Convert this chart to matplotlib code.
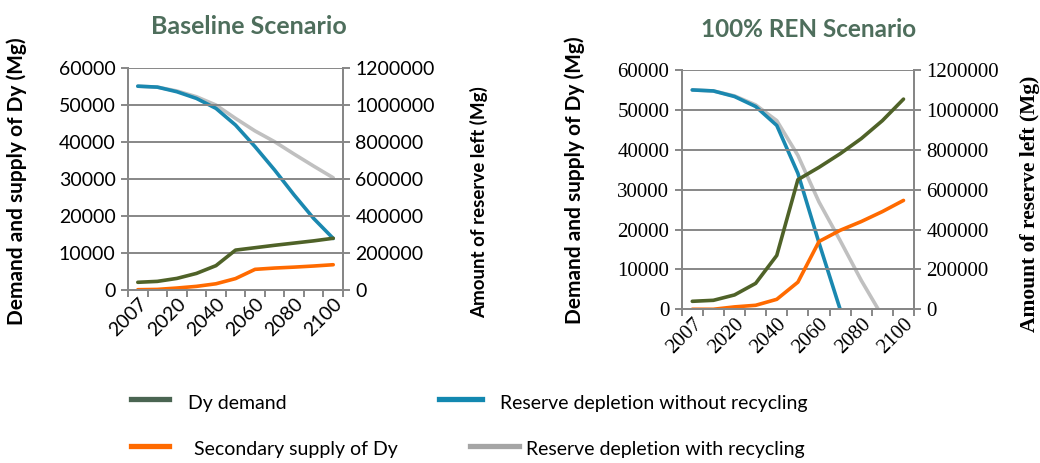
import matplotlib

matplotlib.use("Agg")
import matplotlib.pyplot as plt
from matplotlib.lines import Line2D
from matplotlib.ticker import FuncFormatter

# categories (x) and tick labels
YEARS = ["2007", "2010", "2020", "2030", "2040", "2050", "2060", "2070", "2080", "2090", "2100"]
TICK_YEARS = ["2007", "2020", "2040", "2060", "2080", "2100"]

# Baseline scenario
BASE_DEMAND = [2000, 2250, 3050, 4400, 6500, 10700, 11350, 12000, 12600, 13200, 13900]
BASE_SECONDARY = [0, 80, 450, 900, 1600, 3000, 5500, 5850, 6100, 6400, 6750]
BASE_NO_RECYCLE = [1100000, 1095000, 1070000, 1034000, 980000, 890000, 773000, 647000, 512000, 385000, 277000]
BASE_RECYCLE = [1100000, 1095000, 1074000, 1043000, 998000, 926000, 858000, 800000, 733000, 668000, 605000]

# 100% REN scenario (None = no value)
REN_DEMAND = [2000, 2250, 3600, 6500, 13500, 32500, 35600, 39000, 42800, 47300, 52700]
REN_SECONDARY = [0, 0, 600, 1000, 2500, 6800, 17000, 19800, 22000, 24500, 27300]
REN_NO_RECYCLE = [1100000, 1095000, 1067000, 1017000, 922000, 682000, 333000, 0, None, None, None]
REN_RECYCLE = [1100000, 1095000, 1070000, 1025000, 946000, 772000, 538000, 345000, 145000, -35000, None]

C_DEMAND = "#4F6228"
C_SECONDARY = "#FF6A00"
C_NO_RECYCLE = "#1A88B0"
C_RECYCLE = "#C0C0C0"
C_GRID = "#878787"
C_TITLE = "#4E6E5C"

SANS = ["Lato", "DejaVu Sans"]
SERIF = ["Liberation Serif", "DejaVu Serif"]

plt.rcParams["font.family"] = SANS


def clean(values):
    return [float("nan") if v is None else v for v in values]


def draw_panel(ax, title, demand, secondary, no_rec, rec, tick_size, title_x, title_size):
    x = list(range(len(YEARS)))
    ax2 = ax.twinx()
    ax.set_zorder(ax2.get_zorder() + 1)
    ax.patch.set_visible(False)

    ax2.plot(x, clean(rec), color=C_RECYCLE, lw=2.6, solid_capstyle="round")
    ax2.plot(x, clean(no_rec), color=C_NO_RECYCLE, lw=2.6, solid_capstyle="round")
    ax.plot(x, demand, color=C_DEMAND, lw=2.6, solid_capstyle="round")
    ax.plot(x, secondary, color=C_SECONDARY, lw=2.6, solid_capstyle="round")

    ax.set_xlim(-0.5, len(YEARS) - 0.5)
    ax.set_ylim(0, 60000)
    ax2.set_ylim(0, 1200000)
    ax.set_yticks(range(0, 60001, 10000))
    ax2.set_yticks(range(0, 1200001, 200000))
    plain = FuncFormatter(lambda v, p: f"{v:.0f}")
    ax.yaxis.set_major_formatter(plain)
    ax2.yaxis.set_major_formatter(plain)
    ax.grid(axis="y", color=C_GRID, lw=1.4)
    ax.set_axisbelow(True)

    # category boundaries as tick marks, labels every other category
    ax.set_xticks([i - 0.5 for i in range(len(YEARS) + 1)])
    ax.set_xticklabels([])
    ax.set_xticks([YEARS.index(y) for y in TICK_YEARS], minor=True)
    ax.set_xticklabels(TICK_YEARS, minor=True, rotation=45, ha="right", va="top",
                       rotation_mode="anchor", fontsize=tick_size)
    ax.tick_params(axis="x", which="minor", length=0, pad=4)
    ax.tick_params(axis="x", which="major", length=5, width=1.4, color=C_GRID)
    ax.tick_params(axis="y", length=5, width=1.4, color=C_GRID, pad=4, labelsize=tick_size)
    ax2.tick_params(axis="y", length=5, width=1.4, color=C_GRID, pad=4, labelsize=tick_size)

    for a in (ax, ax2):
        a.spines["top"].set_visible(False)
        for side in ("left", "right", "bottom"):
            a.spines[side].set_color(C_GRID)
            a.spines[side].set_linewidth(1.4)

    ax.set_title(title, fontweight="bold", fontsize=title_size, color=C_TITLE,
                 x=title_x, pad=24)
    return ax2


def set_tick_font(ax, ax2, family):
    labels = ax.get_xticklabels(minor=True) + ax.get_yticklabels() + ax2.get_yticklabels()
    for lab in labels:
        lab.set_fontfamily(family)


fig = plt.figure(figsize=(10.4, 4.63), dpi=100)

ax_base = fig.add_axes([0.1231, 0.3743, 0.2067, 0.4795])
ax_base2 = draw_panel(ax_base, "Baseline Scenario", BASE_DEMAND, BASE_SECONDARY,
                      BASE_NO_RECYCLE, BASE_RECYCLE, 14, 0.56, 18)
ax_base.set_ylabel("Demand and supply of Dy (Mg)", fontweight="bold", fontsize=15)
ax_base.yaxis.set_label_coords(-0.47, 0.487)
ax_base2.set_ylabel("Amount of reserve left (Mg)", fontweight="bold", fontsize=13.5)
ax_base2.yaxis.set_label_coords(1.59, 0.395)

ax_ren = fig.add_axes([0.6555, 0.332, 0.2234, 0.5168])
ax_ren2 = draw_panel(ax_ren, "100% REN Scenario", REN_DEMAND, REN_SECONDARY,
                     REN_NO_RECYCLE, REN_RECYCLE, 15, 0.545, 17.5)
ax_ren.set_ylabel("Demand and supply of Dy (Mg)", fontweight="bold", fontsize=15)
ax_ren.yaxis.set_label_coords(-0.416, 0.54)
ax_ren2.set_ylabel("Amount of reserve left (Mg)", family=SERIF, fontweight="bold", fontsize=15.5)
ax_ren2.yaxis.set_label_coords(1.456, 0.44)

# legend, laid out like the original (two rows, uneven columns)
legend_items = [
    ("Dy demand", "#4A6552", 131, 169, 188, 403),
    ("Reserve depletion without recycling", "#1388B0", 439, 482, 500, 403),
    ("Secondary supply of Dy", C_SECONDARY, 131, 169, 194, 450),
    ("Reserve depletion with recycling", "#A5A5A5", 470, 519, 526, 450),
]
W, H = 1040, 463
for label, color, x0, x1, xt, y in legend_items:
    fig.add_artist(Line2D([x0 / W, x1 / W], [1 - (y - 4) / H, 1 - (y - 4) / H],
                          color=color, lw=3.8, transform=fig.transFigure))
    fig.text(xt / W, 1 - y / H, label, fontsize=14, va="center", ha="left")

# ticks are built on the first draw; set the serif face on the REN panel afterwards
fig.canvas.draw()
set_tick_font(ax_ren, ax_ren2, SERIF)

fig.savefig("out.png", dpi=100)
